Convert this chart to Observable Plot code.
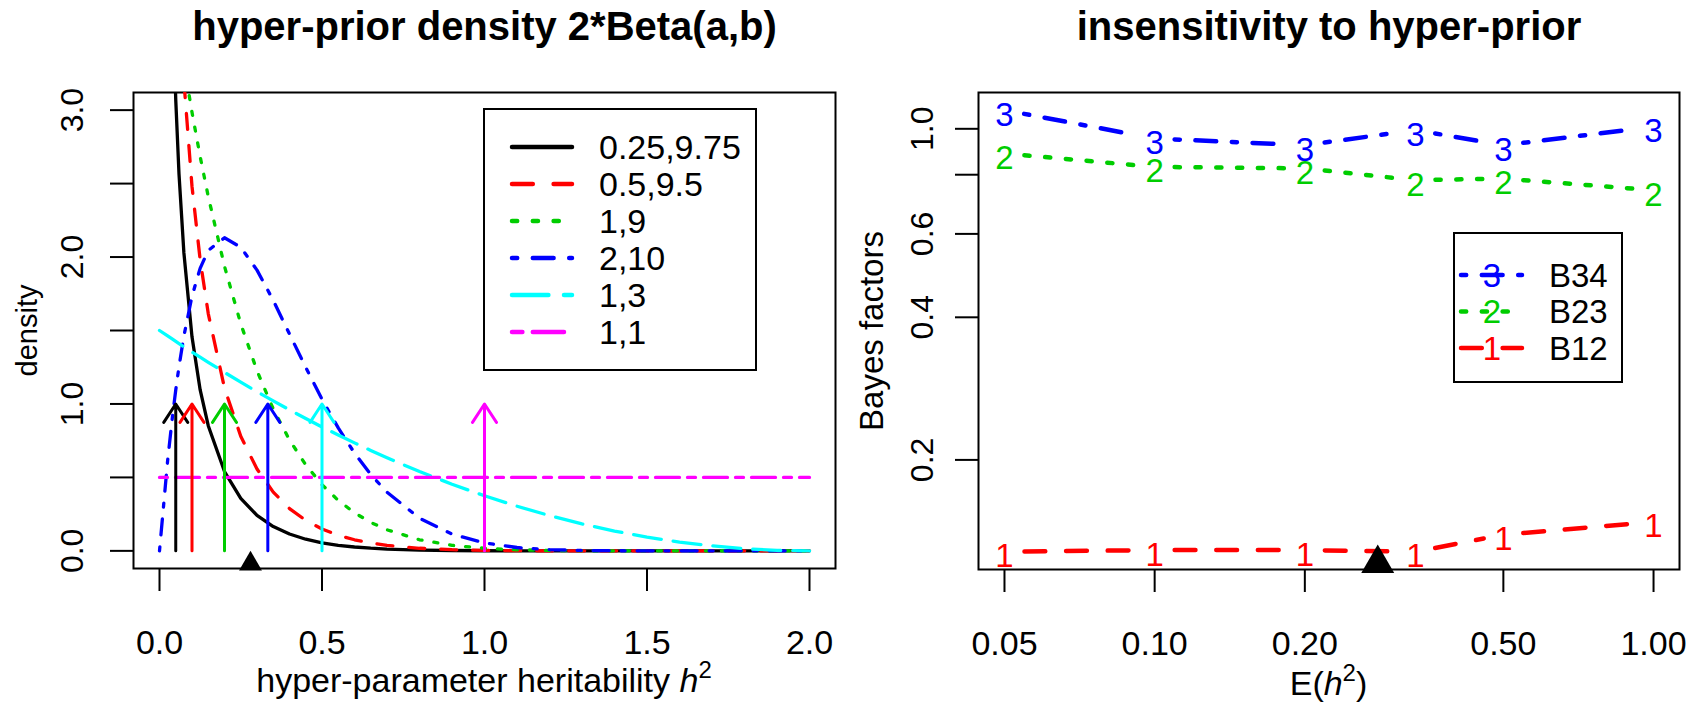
<!DOCTYPE html>
<html>
<head>
<meta charset="utf-8">
<script src="https://cdn.jsdelivr.net/npm/d3@7"></script>
<script src="https://cdn.jsdelivr.net/npm/@observablehq/plot@0.6"></script>
<style>
  html, body { margin: 0; padding: 0; background: #fff; }
  #wrap { position: relative; width: 1700px; height: 706px; display: flex; background: #fff; }
  #wrap svg { display: block; }
</style>
</head>
<body>
<div id="wrap"></div>
<script>
const FONT = '"Liberation Sans", Arial, Helvetica, sans-serif';

// ---------- Left panel data: density of 2*Beta(a,b) ----------
const hGrid = [0, 0.025, 0.04, 0.05, 0.06, 0.075, 0.1, 0.125, 0.15, 0.2, 0.25, 0.3, 0.35, 0.4, 0.45, 0.5,
  0.55, 0.6, 0.65, 0.7, 0.8, 0.9, 1.0, 1.1, 1.2, 1.3, 1.4, 1.5, 1.6, 1.7, 1.8, 1.9, 2.0];
const dens_025_975 = [null, 5.78, 3.80, 3.07, 2.565, 2.03, 1.457, 1.097, 0.852, 0.540, 0.357, 0.2415, 0.1657,
  0.1145, 0.0794, 0.0551, 0.0381, 0.0263, 0.018, 0.0122, 0.0055, 0.0024, 0.0009, 0.0004, 0.0001, 0, 0, 0, 0, 0, 0, 0, 0];
const dens_05_95 = [null, 6.895, 5.11, 4.376, 3.82, 3.201, 2.481, 1.983, 1.615, 1.108, 0.780, 0.557, 0.400,
  0.288, 0.2073, 0.1488, 0.1063, 0.0755, 0.0533, 0.0372, 0.0177, 0.0079, 0.0034, 0.0013, 0.0005, 0.0002, 0, 0, 0, 0, 0, 0, 0];
const dens_1_9 = [4.5, 4.069, 3.829, 3.675, 3.527, 3.315, 2.985, 2.685, 2.412, 1.937, 1.546, 1.226, 0.966,
  0.755, 0.5855, 0.4505, 0.3435, 0.2594, 0.194, 0.1434, 0.0756, 0.0377, 0.0176, 0.0076, 0.0029, 0.001, 0.0003, 0.0001, 0, 0, 0, 0, 0];
const dens_2_10 = [0, 0.614, 0.917, 1.095, 1.254, 1.462, 1.733, 1.923, 2.045, 2.131, 2.067, 1.911, 1.705,
  1.476, 1.249, 1.032, 0.837, 0.666, 0.520, 0.399, 0.222, 0.114, 0.0537, 0.0229, 0.0087, 0.0028, 0.0008, 0.0002, 0, 0, 0, 0, 0];
const dens_1_3 = [1.5, 1.4627, 1.4406, 1.4259, 1.4114, 1.3896, 1.3538, 1.3184, 1.2834, 1.215, 1.1484, 1.0838, 1.0209,
  0.96, 0.9009, 0.8438, 0.7884, 0.735, 0.6834, 0.6338, 0.54, 0.4538, 0.375, 0.3038, 0.24, 0.1838, 0.135, 0.0938, 0.06, 0.0338, 0.015, 0.0038, 0];
const hUniform = [0, 2];
const dens_1_1 = [0.5, 0.5];

const seriesLabels = ["0.25,9.75", "0.5,9.5", "1,9", "2,10", "1,3", "1,1"];
const seriesColors = ["#000000", "#FF0000", "#00CD00", "#0000FF", "#00FFFF", "#FF00FF"];
const seriesLty = [1, 2, 3, 4, 5, 6];
const curveX = [hGrid, hGrid, hGrid, hGrid, hGrid, hUniform];
const curveY = [dens_025_975, dens_05_95, dens_1_9, dens_2_10, dens_1_3, dens_1_1];
const priorMeans = [0.05, 0.1, 0.2, 0.3333, 0.5, 1.0];   // arrows (E of h^2)
const arrowBase = [0, 0, 0, 0, 0, 0];
const arrowTop = [1, 1, 1, 1, 1, 1];
const observedH2 = [0.28];                                // black triangle
const leftXTicks = [0, 0.5, 1, 1.5, 2];
const leftYTicks = [0, 0.5, 1, 1.5, 2, 2.5, 3];

// ---------- Right panel data: Bayes factors vs E(h^2) ----------
const eh2 = [0.05, 0.1, 0.2, 0.3333, 0.5, 1.0];
const B34 = [1.095, 0.954, 0.923, 0.994, 0.923, 1.010];
const B23 = [0.887, 0.831, 0.825, 0.779, 0.785, 0.742];
const B12 = [0.128, 0.129, 0.129, 0.128, 0.139, 0.148];
const bfNames = ["B34", "B23", "B12"];
const bfSymbols = ["3", "2", "1"];
const bfColors = ["#0000FF", "#00CD00", "#FF0000"];
const bfLty = [4, 3, 2];
const bfValues = [B34, B23, B12];
const rightXTicks = [0.05, 0.1, 0.2, 0.5, 1.0];
const rightYTicks = [0.2, 0.4, 0.6, 0.8, 1.0];

// ---------- helpers ----------
const LTY = {1: null, 2: [4, 4], 3: [1, 3], 4: [1, 3, 4, 3], 5: [7, 3], 6: [2, 2, 6, 2]};
function dash(lty, u) { const p = LTY[lty]; return p ? p.map(v => v * u).join(",") : undefined; }

function richText(parts, {x, y, rotate = 0, fontSize = 34}) {
  return (index, scales, values, dims) => {
    const t = d3.create("svg:text")
      .attr("transform", `translate(${x(dims)},${y(dims)}) rotate(${rotate})`)
      .attr("text-anchor", "middle").attr("font-size", fontSize)
      .attr("font-family", FONT).attr("fill", "black");
    for (const p of parts) {
      const s = t.append("tspan").text(p.t);
      if (p.italic) s.attr("font-style", "italic");
      if (p.size) s.attr("font-size", p.size);
      if (p.dy) s.attr("dy", p.dy);
    }
    return t.node();
  };
}

function legendMark(cfg) {
  return () => {
    const g = d3.create("svg:g").attr("font-family", FONT);
    g.append("rect").attr("x", cfg.x).attr("y", cfg.y).attr("width", cfg.w).attr("height", cfg.h)
      .attr("fill", "white").attr("stroke", "black").attr("stroke-width", 2);
    cfg.items.forEach((it, i) => {
      const yy = cfg.y0 + i * cfg.step;
      g.append("line").attr("x1", cfg.lx1).attr("x2", cfg.lx2).attr("y1", yy).attr("y2", yy)
        .attr("stroke", it.color).attr("stroke-width", cfg.lw).attr("stroke-linecap", "round")
        .attr("stroke-dasharray", it.dash || null);
      if (it.symbol) {
        g.append("text").attr("x", cfg.sx).attr("y", yy).attr("dy", "0.36em").attr("text-anchor", "middle")
          .attr("font-size", cfg.fs).attr("fill", it.color).text(it.symbol);
      }
      g.append("text").attr("x", cfg.tx).attr("y", yy).attr("dy", "0.36em").attr("text-anchor", "start")
        .attr("font-size", cfg.fs).attr("fill", "black").text(it.label);
    });
    return g.node();
  };
}

// ---------- Left panel ----------
const leftCurves = curveY.map((ys, s) => Plot.line(
  curveX[s].map((h, i) => ({h, d: ys[i]})),
  {x: "h", y: "d", stroke: seriesColors[s], strokeWidth: 3.3,
   strokeDasharray: dash(seriesLty[s], 4), strokeLinecap: "round", strokeLinejoin: "round", clip: true}
));

const left = Plot.plot({
  width: 850, height: 706,
  marginLeft: 133, marginRight: 15, marginTop: 92, marginBottom: 138,
  x: {domain: [-0.08, 2.08], label: null},
  y: {domain: [-0.12, 3.12], label: null},
  color: {type: "identity"},
  style: {fontFamily: FONT, fontSize: "33px", color: "black", background: "white"},
  marks: [
    Plot.frame({stroke: "black", strokeWidth: 2}),
    ...leftCurves,
    Plot.arrow(priorMeans.map((m, i) => ({m, b: arrowBase[i], t: arrowTop[i], c: seriesColors[i]})),
      {x1: "m", x2: "m", y1: "b", y2: "t", stroke: "c", strokeWidth: 3, headLength: 11, headAngle: 66}),
    Plot.dot(observedH2, {x: d => d, frameAnchor: "bottom", dy: -4.5, symbol: "triangle", r: 8.5, fill: "black", stroke: null}),
    Plot.axisX({ticks: leftXTicks, tickFormat: d => d.toFixed(1), tickSize: 23, tickPadding: 38,
      fontSize: 34, strokeWidth: 2, label: null}),
    Plot.axisY({ticks: leftYTicks, tickFormat: d => Number.isInteger(d) ? d.toFixed(1) : "",
      tickSize: 23, tickPadding: 28, tickRotate: -90, fontSize: 32, strokeWidth: 2, label: null}),
    Plot.text(["hyper-prior density 2*Beta(a,b)"], {text: d => d, frameAnchor: "top", dy: -53,
      lineAnchor: "bottom", fontWeight: "bold", fontSize: 40}),
    Plot.text(["density"], {text: d => d, frameAnchor: "left", dx: -97, rotate: -90,
      lineAnchor: "bottom", textAnchor: "middle", fontSize: 29}),
    richText([{t: "hyper-parameter heritability "}, {t: "h", italic: true}, {t: "2", size: 24, dy: -14}],
      {x: d => d.marginLeft + (d.width - d.marginLeft - d.marginRight) / 2, y: d => d.height - d.marginBottom + 124}),
    legendMark({x: 484, y: 109, w: 272, h: 261, y0: 147, step: 37, lx1: 512, lx2: 572, tx: 599, lw: 4.5, fs: 34,
      items: seriesLabels.map((label, i) => ({label, color: seriesColors[i], dash: dash(seriesLty[i], 5.2)}))})
  ]
});

// ---------- Right panel ----------
const bfSegments = bfValues.map(vals => eh2.slice(0, -1).map((x, i) => ({x1: x, y1: vals[i], x2: eh2[i + 1], y2: vals[i + 1]})));

const right = Plot.plot({
  width: 850, height: 706,
  marginLeft: 128, marginRight: 21, marginTop: 92, marginBottom: 137,
  x: {type: "log", domain: [0.04435, 1.1273], label: null},
  y: {type: "log", domain: [0.1174, 1.193], label: null},
  color: {type: "identity"},
  style: {fontFamily: FONT, fontSize: "33px", color: "black", background: "white"},
  marks: [
    Plot.frame({stroke: "black", strokeWidth: 2}),
    ...bfSegments.map((segs, s) => Plot.arrow(segs, {x1: "x1", y1: "y1", x2: "x2", y2: "y2",
      stroke: bfColors[s], strokeWidth: 4.5, strokeDasharray: dash(bfLty[s], 5.2), strokeLinecap: "round",
      insetStart: 20, insetEnd: 20, headLength: 0})),
    ...bfValues.map((vals, s) => Plot.text(eh2, {x: d => d, y: (d, i) => vals[i], text: () => bfSymbols[s],
      fill: bfColors[s], fontSize: 33, dy: 5})),
    Plot.dot(observedH2, {x: d => d, frameAnchor: "bottom", dy: -6, symbol: "triangle", r: 12.25, fill: "black", stroke: null}),
    Plot.axisX({ticks: rightXTicks, tickFormat: d => d.toFixed(2), tickSize: 23, tickPadding: 38,
      fontSize: 34, strokeWidth: 2, label: null}),
    Plot.axisY({ticks: rightYTicks, tickFormat: d => d === 0.8 ? "" : d.toFixed(1),
      tickSize: 23, tickPadding: 23, tickRotate: -90, fontSize: 32, strokeWidth: 2, label: null}),
    Plot.text(["insensitivity to hyper-prior"], {text: d => d, frameAnchor: "top", dy: -53,
      lineAnchor: "bottom", fontWeight: "bold", fontSize: 40}),
    Plot.text(["Bayes factors"], {text: d => d, frameAnchor: "left", dx: -96, rotate: -90,
      lineAnchor: "bottom", textAnchor: "middle", fontSize: 33}),
    richText([{t: "E("}, {t: "h", italic: true}, {t: "2", size: 24, dy: -14}, {t: ")", dy: 14}],
      {x: d => d.marginLeft + (d.width - d.marginLeft - d.marginRight) / 2, y: d => d.height - d.marginBottom + 126}),
    legendMark({x: 604, y: 233, w: 168, h: 149, y0: 275, step: 36.5, lx1: 611, lx2: 672, sx: 642, tx: 699, lw: 4.5, fs: 33,
      items: bfNames.map((label, i) => ({label, color: bfColors[i], symbol: bfSymbols[i], dash: dash(bfLty[i], 5.2)}))})
  ]
});

document.getElementById("wrap").append(left, right);
</script>
</body>
</html>
